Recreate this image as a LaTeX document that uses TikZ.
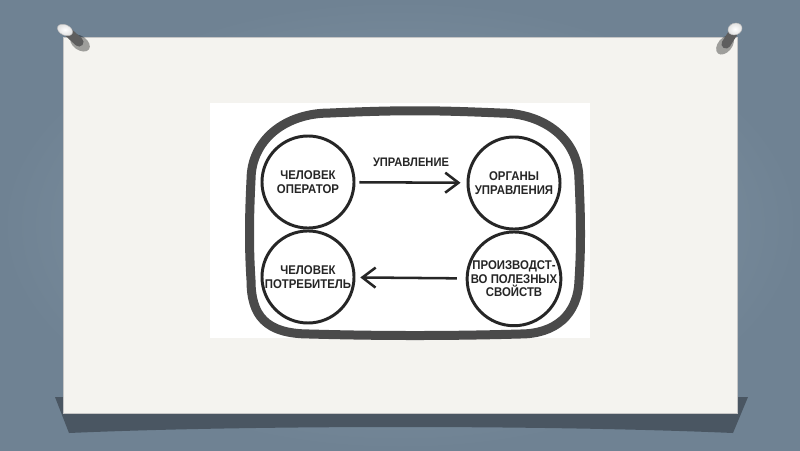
\documentclass[tikz,border=0pt]{standalone}
\usepackage{fontspec}
\setmainfont{Liberation Sans}
\newfontfamily\letterfont[FakeStretch=0.9]{Liberation Sans}
\usepackage{xcolor}
\usetikzlibrary{arrows.meta,positioning,shapes.geometric}

\definecolor{slidebg}{HTML}{8B9EAD}
\definecolor{slidedark}{HTML}{6F8293}
\definecolor{papercol}{HTML}{F4F3EF}
\definecolor{shadowcol}{HTML}{4A5662}
\definecolor{framecol}{HTML}{4A4A4A}
\definecolor{inkcol}{HTML}{262626}
\definecolor{pinbody}{HTML}{5E5E5E}

\begin{document}
\begin{tikzpicture}[
  x=0.025cm, y=-0.025cm,
  unit/.style={circle, draw=inkcol, line width=2.1pt, minimum size=2.3cm,
               inner sep=0pt, align=center, text=inkcol,
               font=\letterfont\bfseries\fontsize{9}{9.8}\selectfont},
  arr/.style={-{Straight Barb[length=3.3mm, width=5mm]}, line width=1.8pt,
              draw=inkcol},
  lbl/.style={text=inkcol, font=\letterfont\bfseries\fontsize{8.8}{9}\selectfont},
  pinhead/.style={ellipse, inner color=white, outer color=gray!25,
                  draw=gray!55, line width=0.3pt, inner sep=0pt},
  pinshadow/.style={black, opacity=0.35},
  pinstem/.style={pinbody, line width=6.5pt, line cap=round}
]
\useasboundingbox (0,0) rectangle (800,450);

% slide background, paper and its shadow
\shade[inner color=slidebg, outer color=slidedark] (0,0) rectangle (800,450);
\fill[shadowcol] (55,397) -- (748,397) -- (733,433)
  .. controls (550,425) and (250,425) .. (69,433) -- cycle;
\fill[papercol, draw=gray!45, line width=0.4pt] (63,37) rectangle (737,413);

% pins
\fill[pinshadow, rotate around={-35:(80,43)}] (80,43) ellipse (11 and 7);
\draw[pinstem] (68,32) -- (79,42);
\node[pinhead, minimum width=0.4cm, minimum height=0.26cm, rotate=-25]
  (pinL) at (65,30) {};
\fill[pinshadow, rotate around={50:(725,45)}] (725,45) ellipse (11 and 7);
\draw[pinstem] (733,33) -- (726,44);
\node[pinhead, minimum width=0.36cm, minimum height=0.29cm, rotate=20]
  (pinR) at (735,29) {};

% the scheme
\fill[white] (210,103) rectangle (590,338);
\draw[framecol, line width=6.4pt]
  (330,113) .. controls (400,110) and (430,110) .. (500,113)
  .. controls (545,113) and (579,140) .. (579,180)
  .. controls (581,220) and (581,250) .. (579,280)
  .. controls (578,315) and (555,334) .. (520,334)
  .. controls (450,336) and (380,336) .. (310,334)
  .. controls (265,334) and (251,315) .. (251,280)
  .. controls (249,250) and (249,220) .. (251,180)
  .. controls (251,140) and (285,113) .. (330,113) -- cycle;

\node[unit] (oper)  at (308,182) {ЧЕЛОВЕК\\ОПЕРАТОР};
\node[unit] (organ) at (514,183) {ОРГАНЫ\\УПРАВЛЕНИЯ};
\node[unit, below=0pt of oper]  (cons) {ЧЕЛОВЕК\\ПОТРЕБИТЕЛЬ};
\node[unit, below=0pt of organ] (prod) {ПРОИЗВОДСТ-\\ВО ПОЛЕЗНЫХ\\СВОЙСТВ};

\draw[arr, shorten <=0.1cm, shorten >=0.15cm] (oper) --
  node[lbl, above=2.4mm] {УПРАВЛЕНИЕ} (organ);
\draw[arr, shorten <=0.22cm, shorten >=0.12cm] (prod) -- (cons);
\end{tikzpicture}
\end{document}
